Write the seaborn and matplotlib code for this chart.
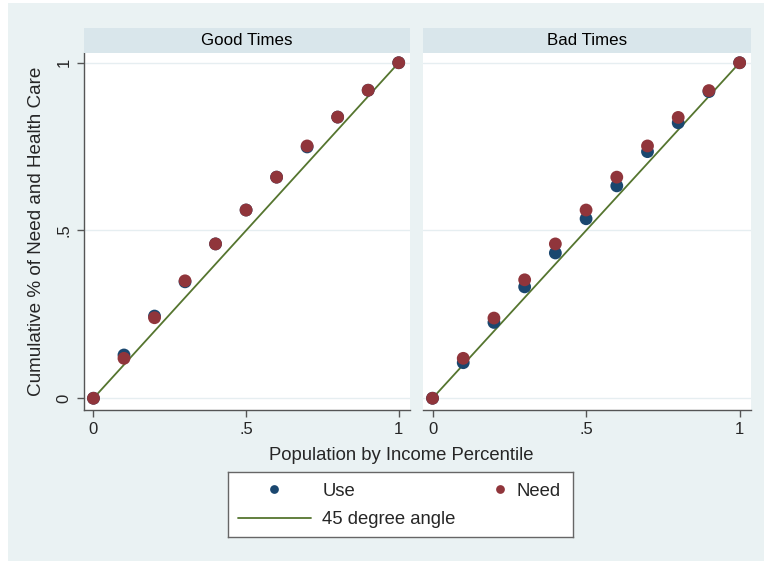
import matplotlib
matplotlib.use("Agg")
import matplotlib.pyplot as plt
from matplotlib.patches import Rectangle
import seaborn as sns
import pandas as pd

sns.set_theme(style="white")
plt.rcParams['font.family'] = ['Liberation Sans', 'DejaVu Sans']

# ---- data ----
percentile = [0, .1, .2, .3, .4, .5, .6, .7, .8, .9, 1]
good_use = [0, .129, .245, .347, .460, .561, .659, .749, .838, .918, 1]
good_need = [0, .119, .240, .350, .460, .561, .659, .752, .838, .918, 1]
bad_use = [0, .106, .226, .332, .433, .535, .633, .735, .821, .914, 1]
bad_need = [0, .119, .239, .353, .460, .561, .659, .752, .837, .917, 1]
panels = ["Good Times", "Bad Times"]
x_ticks = [0, .5, 1]
x_ticklabels = ["0", ".5", "1"]
y_ticks = [0, .5, 1]
y_ticklabels = ["0", ".5", "1"]

USE_C = "#1a476f"
NEED_C = "#90353b"
LINE_C = "#55752f"
BG = "#eaf2f3"
STRIP = "#d9e6eb"
AX_C = "#555555"

W, H = 764, 561
fig = plt.figure(figsize=(W / 100, H / 100), dpi=100)
fig.patch.set_facecolor("white")
fig.patches.append(Rectangle((8 / W, 0), 1, 1 - 3 / H, transform=fig.transFigure,
                             facecolor=BG, edgecolor="none", zorder=-10))

def fx(px):
    return px / W

def fy(py):
    return 1 - py / H

data = {
    "Good Times": (good_use, good_need),
    "Bad Times": (bad_use, bad_need),
}
lefts = [84, 423]
right_edges = [410, 751]
top, bottom = 53, 410
strip_top = 28

axes = []
for i, name in enumerate(panels):
    l, r = lefts[i], right_edges[i]
    ax = fig.add_axes([fx(l), fy(bottom), (r - l) / W, (bottom - top) / H])
    axes.append(ax)
    use, need = data[name]
    df = pd.DataFrame({"x": percentile, "use": use, "need": need})
    ax.set_facecolor("white")
    for yv in y_ticks:
        ax.axhline(yv, color="#e6eef1", lw=1.0, zorder=0)
    sns.lineplot(data=df, x="x", y="x", ax=ax, color=LINE_C, lw=1.3, zorder=2)
    sns.scatterplot(data=df, x="x", y="use", ax=ax, color=USE_C, s=85,
                    edgecolor="none", zorder=3)
    sns.scatterplot(data=df, x="x", y="need", ax=ax, color=NEED_C, s=85,
                    edgecolor="none", zorder=4)
    ax.set_xlim(-0.031, 1.037)
    ax.set_ylim(-0.035, 1.029)
    ax.set_xlabel("")
    ax.set_ylabel("")
    ax.set_xticks(x_ticks)
    ax.set_xticklabels(x_ticklabels, fontsize=12)
    for s in ["top", "right"]:
        ax.spines[s].set_visible(False)
    ax.spines["bottom"].set_color(AX_C)
    ax.spines["bottom"].set_linewidth(1.0)
    ax.tick_params(axis="x", direction="out", length=5, width=1, color=AX_C,
                   pad=4, bottom=True)
    if i == 0:
        ax.spines["left"].set_color(AX_C)
        ax.spines["left"].set_linewidth(1.0)
        ax.set_yticks(y_ticks)
        ax.set_yticklabels(y_ticklabels, fontsize=12, rotation=90, va="center")
        ax.tick_params(axis="y", direction="out", length=5, width=1, color=AX_C,
                       pad=4, left=True)
    else:
        ax.spines["left"].set_visible(False)
        ax.set_yticks(y_ticks)
        ax.tick_params(axis="y", left=False, labelleft=False)
    # strip header
    sax = fig.add_axes([fx(l), fy(top), (r - l) / W, (top - strip_top) / H])
    sax.set_facecolor(STRIP)
    sax.set_xticks([])
    sax.set_yticks([])
    for s in sax.spines.values():
        s.set_visible(False)
    sax.text(0.5, 0.5, name, ha="center", va="center", fontsize=12.2,
             transform=sax.transAxes, color="black")

fig.text(fx(37), fy(231), "Cumulative % of Need and Health Care", rotation=90,
         ha="center", va="center", fontsize=13.6)
fig.text(fx(401), fy(456), "Population by Income Percentile", ha="center",
         va="center", fontsize=13.3)

# ---- legend ----
lx0, ly0, lx1, ly1 = 228, 472, 573, 537
lax = fig.add_axes([fx(lx0), fy(ly1), (lx1 - lx0) / W, (ly1 - ly0) / H])
lax.set_xlim(0, lx1 - lx0)
lax.set_ylim(ly1 - ly0, 0)
lax.set_facecolor("white")
lax.set_xticks([])
lax.set_yticks([])
for s in lax.spines.values():
    s.set_color("#666666")
    s.set_linewidth(1.0)
lax.plot([46], [17], "o", color=USE_C, ms=6.3, mec="none")
lax.plot([272], [17], "o", color=NEED_C, ms=6.3, mec="none")
lax.plot([10, 83], [46, 46], color=LINE_C, lw=1.3)
lax.text(95, 19, "Use", fontsize=13.3, va="center", ha="left")
lax.text(289, 19, "Need", fontsize=13.3, va="center", ha="left")
lax.text(94, 47, "45 degree angle", fontsize=13.3, va="center", ha="left")

fig.savefig("out.png", dpi=100)
